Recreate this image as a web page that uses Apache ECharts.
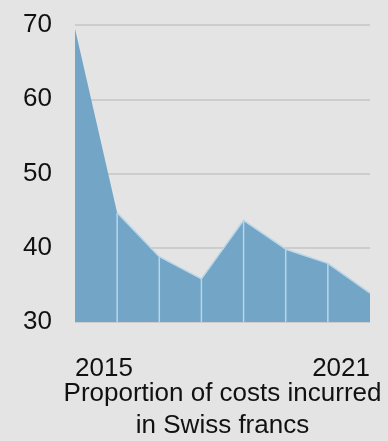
<!DOCTYPE html>
<html>
<head>
<meta charset="utf-8">
<script src="https://cdn.jsdelivr.net/npm/echarts@6/dist/echarts.min.js"></script>
<style>
  html, body { margin: 0; padding: 0; background: #e4e4e4; }
  #chart { width: 388px; height: 441px; }
</style>
</head>
<body>
<div id="chart"></div>
<script>
// Share of costs incurred in Swiss francs (%), one value per period
const periods = ['2015', '', '', '', '', '', '', '2021'];
const shareCHF = [69.5, 44.7, 38.8, 35.8, 43.7, 39.8, 37.9, 33.9];
const yTicks = [30, 40, 50, 60, 70];

const FONT = 'Liberation Sans, Arial, sans-serif';
const AREA = '#72a5c6';
const EDGE = '#b9d6e8';

const chart = echarts.init(document.getElementById('chart'), null, { renderer: 'canvas' });

// dividers drop from each inner point down to the baseline
const dividers = shareCHF.map((v, i) =>
  (i === 0 || i === shareCHF.length - 1) ? { value: v, itemStyle: { color: 'rgba(0,0,0,0)' } } : v);
// light top edge starts after the first segment
const topEdge = shareCHF.map((v, i) => i === 0 ? '-' : v);

chart.setOption({
  backgroundColor: '#e4e4e4',
  animation: false,
  grid: { left: 75, right: 18, top: 25, bottom: 119, containLabel: false, outerBoundsMode: 'none' },
  xAxis: {
    type: 'category',
    data: periods,
    boundaryGap: false,
    axisLine: { show: false },
    axisTick: { show: false },
    axisLabel: {
      interval: 0,
      margin: 34,
      fontFamily: FONT,
      fontSize: 26,
      color: '#111',
      alignMinLabel: 'left',
      alignMaxLabel: 'right'
    },
    name: 'Proportion of costs incurred\nin Swiss francs',
    nameLocation: 'middle',
    nameGap: 56,
    nameMoveOverlap: false,
    nameTextStyle: { fontFamily: FONT, fontSize: 26, color: '#111', lineHeight: 32, verticalAlign: 'top' }
  },
  yAxis: {
    type: 'value',
    min: yTicks[0],
    max: yTicks[yTicks.length - 1],
    interval: 10,
    axisLine: { show: false },
    axisTick: { show: false },
    axisLabel: { margin: 23, fontFamily: FONT, fontSize: 26, color: '#111' },
    splitLine: { lineStyle: { color: '#c6c6c6', width: 1.5 } }
  },
  series: [
    {
      type: 'line',
      data: shareCHF,
      symbol: 'none',
      lineStyle: { width: 0 },
      areaStyle: { color: AREA, opacity: 1, origin: 'start' },
      z: 2
    },
    {
      type: 'bar',
      data: dividers,
      barWidth: 1.5,
      itemStyle: { color: EDGE },
      clip: true,
      z: 3
    },
    {
      type: 'line',
      data: topEdge,
      symbol: 'none',
      lineStyle: { color: EDGE, width: 1.5 },
      z: 4
    }
  ]
});
</script>
</body>
</html>
